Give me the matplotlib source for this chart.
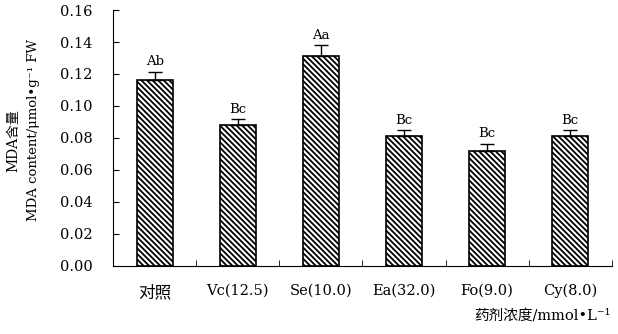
import numpy as np
from matplotlib import pyplot as plt

plt.rcParams['font.family'] = ['DejaVu Serif', 'Noto Sans CJK SC', 'DejaVu Sans']
plt.rcParams['hatch.linewidth'] = 1.3

# data
cats = ['对照', 'Vc(12.5)', 'Se(10.0)', 'Ea(32.0)', 'Fo(9.0)', 'Cy(8.0)']
mda = [0.116, 0.088, 0.131, 0.081, 0.072, 0.081]
err = [0.0055, 0.004, 0.007, 0.004, 0.0045, 0.004]
sig = ['Ab', 'Bc', 'Aa', 'Bc', 'Bc', 'Bc']
yticks = [0.00, 0.02, 0.04, 0.06, 0.08, 0.10, 0.12, 0.14, 0.16]

fig = plt.figure(figsize=(6.18, 3.34), dpi=100)
ax = fig.add_axes([0.183, 0.204, 0.807, 0.766])

x = np.arange(len(cats))
ax.bar(x, mda, width=0.43, color='white', edgecolor='black', linewidth=1.2,
       hatch='\\\\\\\\\\\\')
ax.errorbar(x, mda, yerr=[np.zeros(len(err)), err], fmt='none', ecolor='black',
            elinewidth=1, capsize=5, capthick=1)
for xi, v, e, s in zip(x, mda, err, sig):
    ax.text(xi, v + e + 0.002, s, ha='center', va='bottom', fontsize=9.5)

ax.set_xlim(-0.5, len(cats) - 0.5)
ax.set_ylim(0, 0.16)
ax.set_yticks(yticks)
ax.set_yticklabels(['%.2f' % t for t in yticks], fontsize=10.5)
ax.set_xticks(x)
ax.set_xticklabels(cats, fontsize=10.5)
ax.get_xticklabels()[0].set_fontsize(12)
ax.tick_params(axis='x', length=0, pad=13)
ax.set_xticks(np.arange(len(cats) + 1) - 0.5, minor=True)
ax.tick_params(axis='x', which='minor', direction='in', length=4)
ax.tick_params(axis='y', direction='in', length=4, pad=15)
ax.spines['top'].set_visible(False)
ax.spines['right'].set_visible(False)

fig.text(0.022, 0.58, 'MDA含量', rotation=90, ha='center', va='center', fontsize=10)
fig.text(0.055, 0.61, 'MDA content/μmol•g⁻¹ FW', rotation=90, ha='center',
         va='center', fontsize=9.5)
fig.text(0.988, 0.051, '药剂浓度/mmol•L⁻¹', ha='right', va='center', fontsize=10.5)

plt.savefig('out.png')
